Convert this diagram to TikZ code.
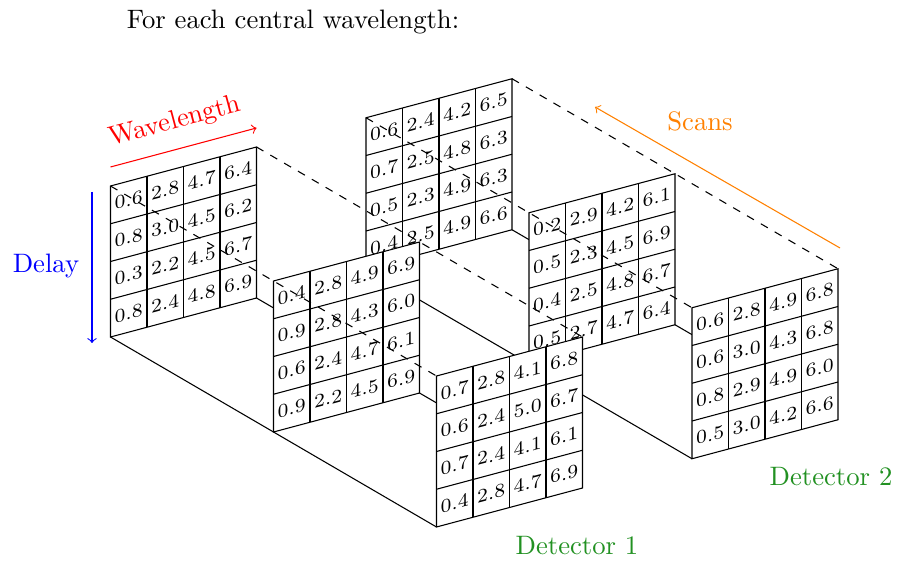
\documentclass[tikz,border=0pt]{standalone}
\usetikzlibrary{calc}
\definecolor{detgreen}{RGB}{34,145,34}
\definecolor{scanorange}{RGB}{255,128,0}
\tikzset{
  cellnum/.style={font=\fontsize{7.2}{8}\selectfont, inner sep=0pt, yslant=0.267},
  panelbox/.style={draw=black, fill=white},
  gridline/.style={draw=black},
  hiddenedge/.style={draw=black, dashed},
  visibleedge/.style={draw=black},
  axislabel/.style={font=\normalsize, inner sep=0pt},
}
\newcommand\placepanel[3]{%
  \path (#2,#3) coordinate (#1tl) ++(146,-39) coordinate (#1tr)
        ++(0,151) coordinate (#1br) ++(-146,39) coordinate (#1bl);
}
\newcommand\drawpanel[2]{%
  \path[panelbox] (#1tl) -- (#1tr) -- (#1br) -- (#1bl) -- cycle;
  \foreach \k in {1,2,3} {
    \path[gridline] ($(#1tl)+({36.5*\k},{-9.75*\k})$) -- ++(0,151);
    \path[gridline] ($(#1tl)+(0,{37.75*\k})$) -- ++(146,-39);
  }
  \foreach \v [count=\n from 0] in {#2} {
    \pgfmathtruncatemacro\ci{mod(\n,4)}
    \pgfmathtruncatemacro\cj{floor(\n/4)}
    \node[cellnum] (#1-\ci-\cj) at ($(#1tl)+({36.5*(\ci+0.5)},{-9.75*(\ci+0.5)+37.75*(\cj+0.5)})$) {\v};
  }
}
\begin{document}
\begin{tikzpicture}[x=0.375pt,y=-0.375pt]
\useasboundingbox (0,0) rectangle (898,562);
% panel positions
\placepanel{A}{110.5}{186}
\placepanel{B}{273.5}{281}
\placepanel{C}{436.5}{376}
\placepanel{D}{366}{117.75}
\placepanel{E}{529}{212.75}
\placepanel{F}{692}{307.75}
% solid (visible) box edges, drawn beneath the panels
\path[visibleedge] (Abl) -- (Cbl);
\path[visibleedge] (Abr) -- (Cbr);
\path[visibleedge] (Dbl) -- (Fbl);
\path[visibleedge] (Dbr) -- (Fbr);
% panels, back to front
\drawpanel{D}{0.6,2.4,4.2,6.5,0.7,2.5,4.8,6.3,0.5,2.3,4.9,6.3,0.4,2.5,4.9,6.6}
\drawpanel{E}{0.2,2.9,4.2,6.1,0.5,2.3,4.5,6.9,0.4,2.5,4.8,6.7,0.5,2.7,4.7,6.4}
\drawpanel{F}{0.6,2.8,4.9,6.8,0.6,3.0,4.3,6.8,0.8,2.9,4.9,6.0,0.5,3.0,4.2,6.6}
\drawpanel{A}{0.6,2.8,4.7,6.4,0.8,3.0,4.5,6.2,0.3,2.2,4.5,6.7,0.8,2.4,4.8,6.9}
\drawpanel{B}{0.4,2.8,4.9,6.9,0.9,2.8,4.3,6.0,0.6,2.4,4.7,6.1,0.9,2.2,4.5,6.9}
\drawpanel{C}{0.7,2.8,4.1,6.8,0.6,2.4,5.0,6.7,0.7,2.4,4.1,6.1,0.4,2.8,4.7,6.9}
% hidden box edges, dashed, drawn on top
\path[hiddenedge] (Atl) -- (Ctl);
\path[hiddenedge] (Atr) -- (Ctr);
\path[hiddenedge] (Dtl) -- (Ftl);
\path[hiddenedge] (Dtr) -- (Ftr);
% title
\node[font=\normalsize] (title) at (293,22) {For each central wavelength:};
% wavelength axis
\coordinate (wl0) at (110.5,167);
\coordinate (wl1) at (256.5,128);
\draw[red,->] (wl0) -- (wl1);
\node[axislabel, text=red, rotate=14.95] (wltext) at (175,122) {Wavelength};
% delay axis
\coordinate (dl0) at (92,192);
\coordinate (dl1) at (92,343);
\draw[blue,->] (dl0) -- (dl1);
\node[axislabel, text=blue] (dltext) at (46,266) {Delay};
% scans axis
\coordinate (sc0) at (840,248);
\coordinate (sc1) at (595,107);
\draw[scanorange,->] (sc0) -- (sc1);
\node[axislabel, text=scanorange] (sctext) at (700,121) {Scans};
% detector labels
\node[axislabel, text=detgreen] (det1) at (577,546) {Detector 1};
\node[axislabel, text=detgreen] (det2) at (831,477) {Detector 2};
\end{tikzpicture}
\end{document}
